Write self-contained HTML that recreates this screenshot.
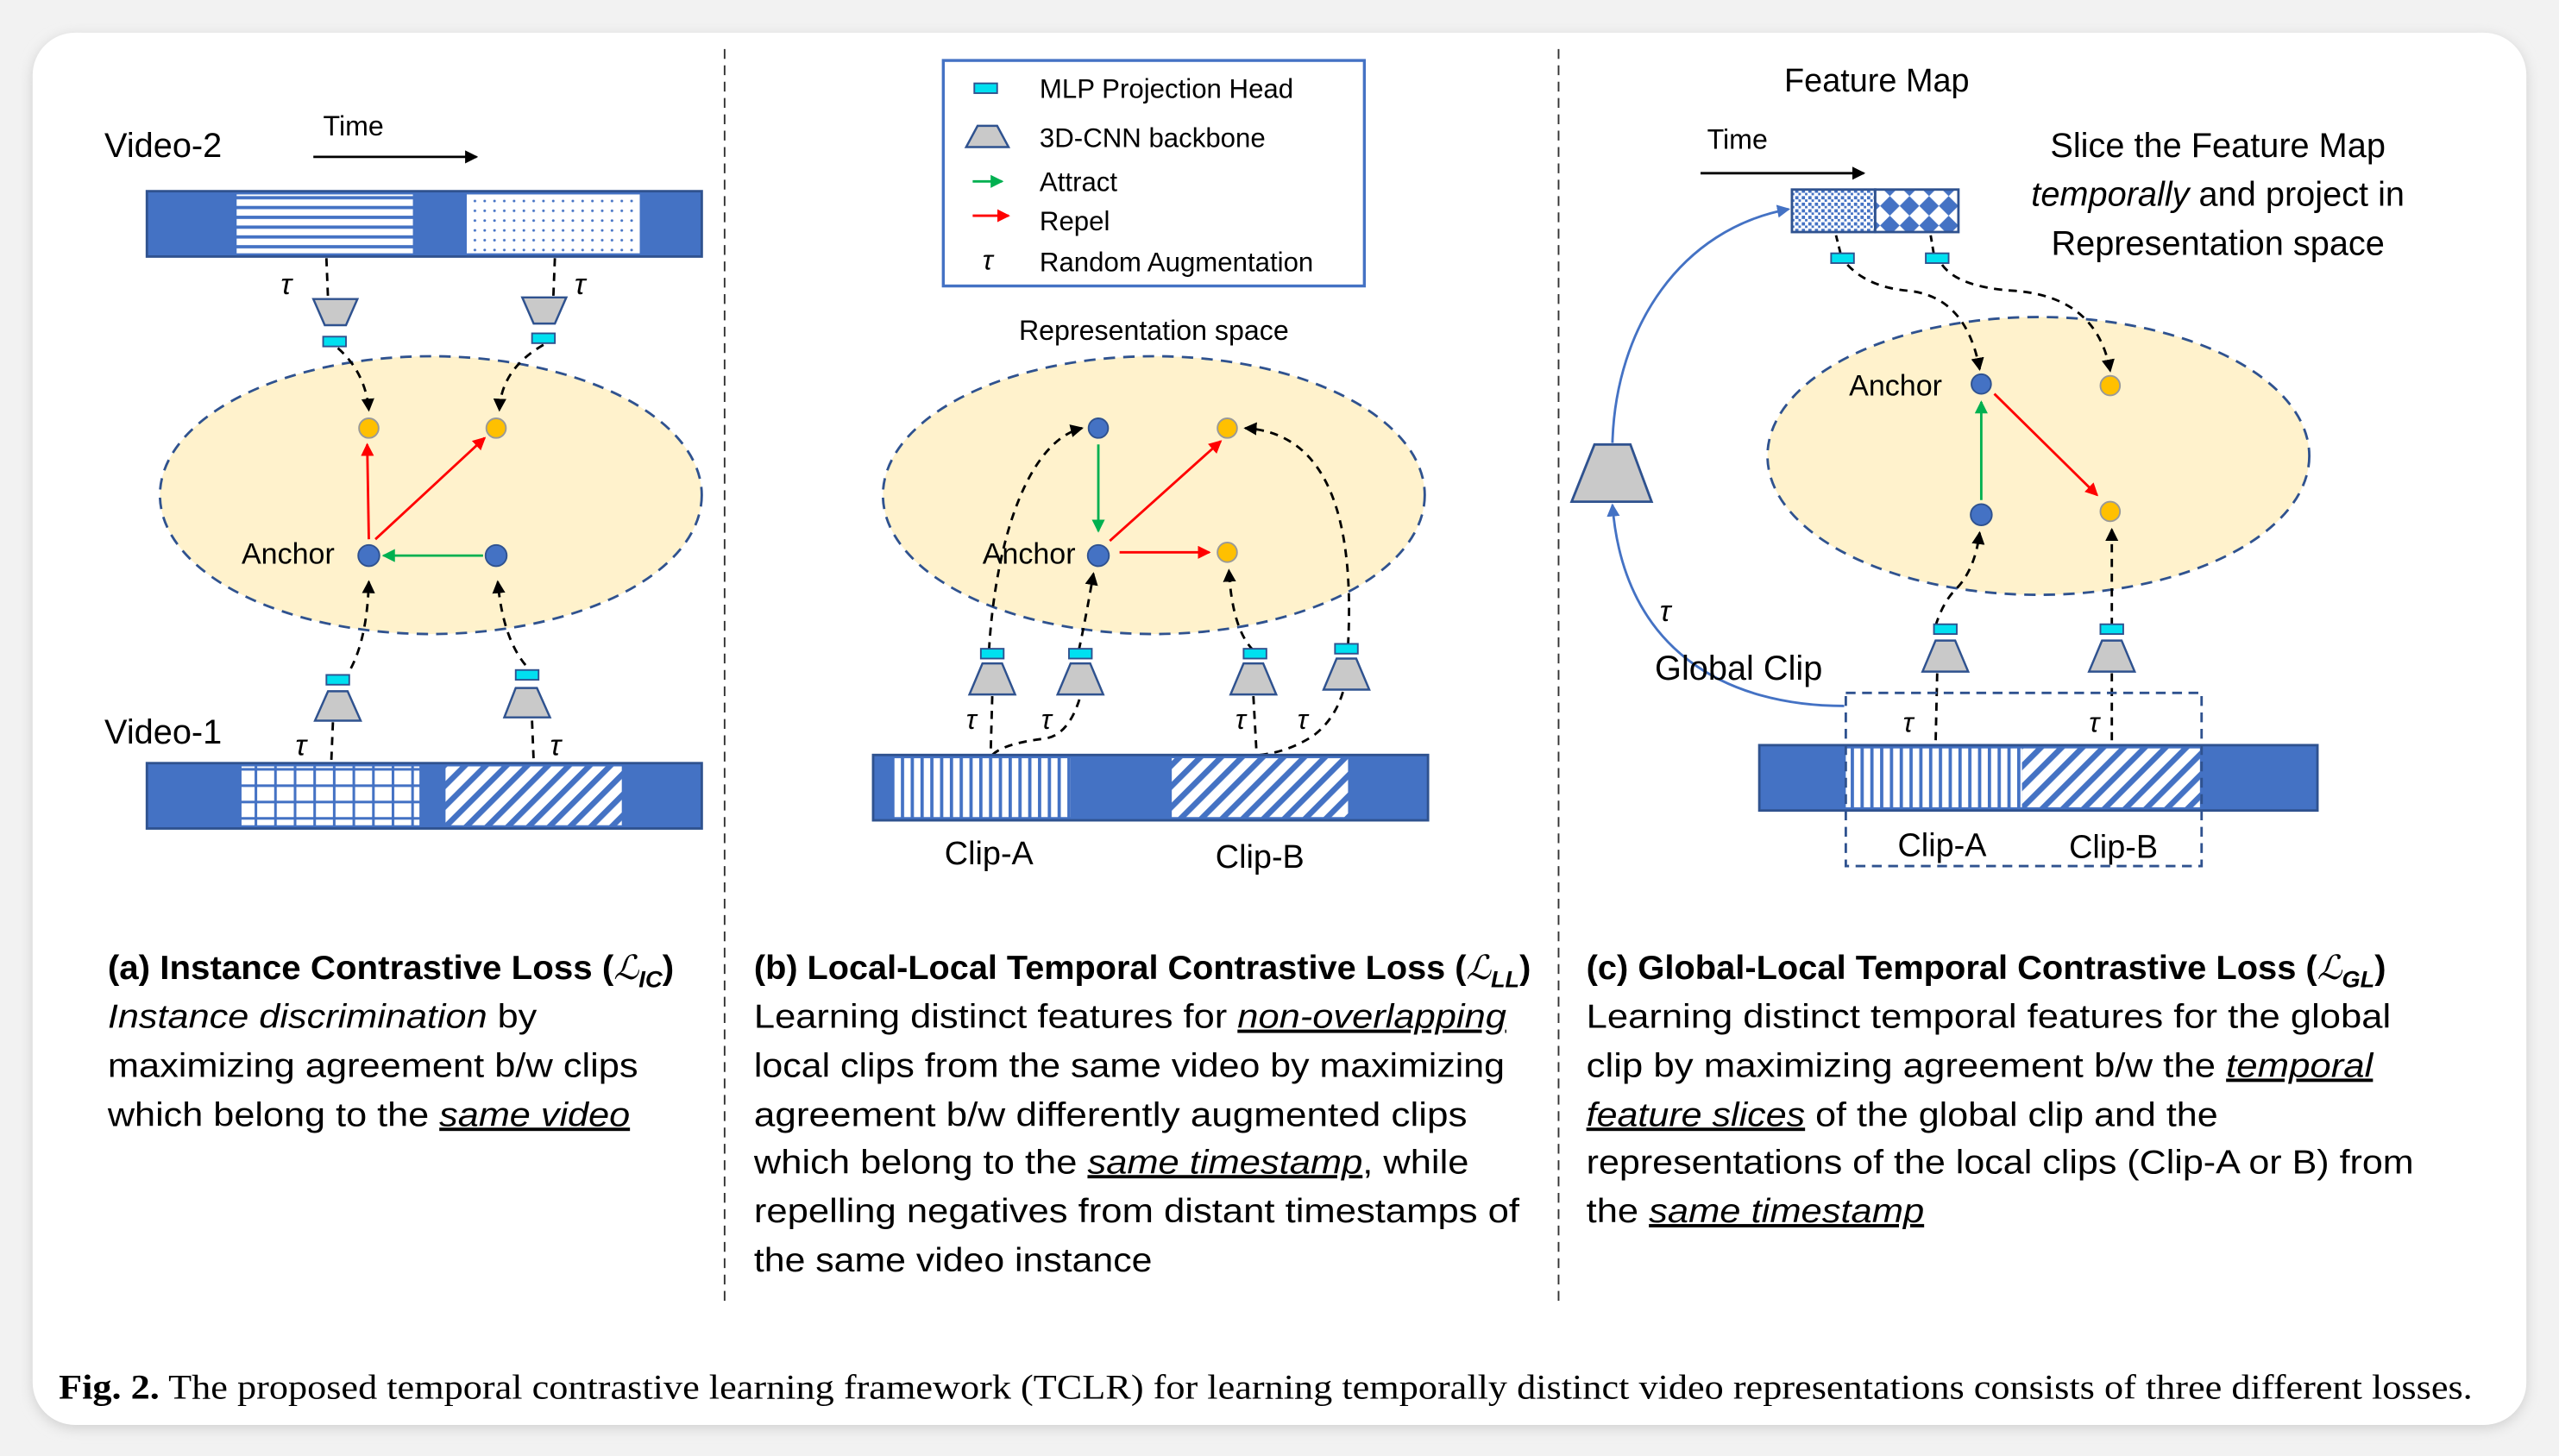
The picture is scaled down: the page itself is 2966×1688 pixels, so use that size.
<!DOCTYPE html>
<html><head><meta charset="utf-8"><style>
html,body{margin:0;padding:0;background:#ececec;}
svg{display:block;}
text{font-family:"Liberation Sans",sans-serif;fill:#000;}
.cap{font-size:20.5px;}
</style></head><body>
<svg width="2966" height="1688" viewBox="0 0 1568 891" preserveAspectRatio="none" xmlns="http://www.w3.org/2000/svg">
<defs>
<pattern id="hs" width="6" height="6" patternUnits="userSpaceOnUse"><rect width="6" height="6" fill="#fff"/><rect y="0" width="6" height="2" fill="#4472c4"/></pattern>
<pattern id="vs" width="6" height="6" patternUnits="userSpaceOnUse"><rect width="6" height="6" fill="#fff"/><rect x="0" width="2" height="6" fill="#4472c4"/></pattern>
<pattern id="dots" width="6" height="6" patternUnits="userSpaceOnUse"><rect width="6" height="6" fill="#fff"/><circle cx="3" cy="3" r="0.8" fill="#4472c4"/></pattern>
<pattern id="grid" width="12" height="10" patternUnits="userSpaceOnUse"><rect width="12" height="10" fill="#fff"/><rect width="1.6" height="10" fill="#4472c4"/><rect width="12" height="1.6" fill="#4472c4"/></pattern>
<pattern id="diag" width="9" height="9" patternUnits="userSpaceOnUse" patternTransform="rotate(45)"><rect width="9" height="9" fill="#fff"/><rect width="3.5" height="9" fill="#4472c4"/></pattern>
<pattern id="speck" width="4" height="4" patternUnits="userSpaceOnUse"><rect width="4" height="4" fill="#fff"/><rect width="2" height="2" fill="#4472c4"/><rect x="2" y="2" width="1.5" height="1.5" fill="#4472c4"/></pattern>
<pattern id="diam" width="12" height="12" patternUnits="userSpaceOnUse"><rect width="12" height="12" fill="#fff"/><path d="M6 0 L12 6 L6 12 L0 6Z" fill="#4472c4"/></pattern>
<marker id="ak" markerWidth="8" markerHeight="8" refX="7" refY="4" orient="auto" markerUnits="userSpaceOnUse"><path d="M0 0 L8 4 L0 8Z" fill="#000"/></marker>
<marker id="ar" markerWidth="8" markerHeight="8" refX="7" refY="4" orient="auto" markerUnits="userSpaceOnUse"><path d="M0 0 L8 4 L0 8Z" fill="#f00"/></marker>
<marker id="ag" markerWidth="8" markerHeight="8" refX="7" refY="4" orient="auto" markerUnits="userSpaceOnUse"><path d="M0 0 L8 4 L0 8Z" fill="#00b050"/></marker>
<marker id="ab" markerWidth="8" markerHeight="8" refX="7" refY="4" orient="auto" markerUnits="userSpaceOnUse"><path d="M0 0 L8 4 L0 8Z" fill="#4472c4"/></marker>
<filter id="sh" x="-5%" y="-5%" width="110%" height="110%"><feGaussianBlur stdDeviation="4"/></filter>
</defs>
<rect width="1568" height="891" fill="#f2f2f2"/>
<rect x="20" y="22" width="1528" height="852" rx="26" fill="#cfcfcf" filter="url(#sh)"/>
<rect x="20" y="20" width="1528" height="852" rx="26" fill="#fff"/>

<line x1="444" y1="30" x2="444" y2="800" stroke="#333" stroke-width="1" stroke-dasharray="6,4"/>
<line x1="955" y1="30" x2="955" y2="800" stroke="#333" stroke-width="1" stroke-dasharray="6,4"/>

<g id="A">
<text x="64" y="96" font-size="21">Video-2</text>
<text x="198" y="83" font-size="17">Time</text>
<line x1="192" y1="96" x2="292" y2="96" stroke="#000" stroke-width="1.5" marker-end="url(#ak)"/>
<rect x="90" y="117" width="340" height="40" fill="#4472c4" stroke="#2f528f" stroke-width="1.5"/>
<rect x="145" y="119" width="108" height="36" fill="url(#hs)"/>
<rect x="286" y="119" width="106" height="36" fill="url(#dots)"/>
<ellipse cx="264" cy="303" rx="166" ry="85" fill="#fff2cc" stroke="#2f528f" stroke-width="1.5" stroke-dasharray="7,5"/>
<text x="172" y="180" font-size="18" font-family="Liberation Serif" font-style="italic">τ</text>
<text x="352" y="180" font-size="18" font-family="Liberation Serif" font-style="italic">τ</text>
<path d="M200 158 L201 183" stroke="#000" stroke-width="1.5" stroke-dasharray="5,4" fill="none"/>
<path d="M340 158 L339 183" stroke="#000" stroke-width="1.5" stroke-dasharray="5,4" fill="none"/>
<path d="M192 183 L219 183 L212 199 L199 199Z" fill="#c9c9c9" stroke="#2f528f" stroke-width="1.3"/>
<path d="M320 182 L347 182 L340 198 L327 198Z" fill="#c9c9c9" stroke="#2f528f" stroke-width="1.3"/>
<rect x="198" y="206" width="14" height="6" fill="#00e0f0" stroke="#2f528f"/>
<rect x="326" y="204" width="14" height="6" fill="#00e0f0" stroke="#2f528f"/>
<path d="M207 213 Q224 228 226 251" stroke="#000" stroke-width="1.5" stroke-dasharray="5,4" fill="none" marker-end="url(#ak)"/>
<path d="M333 211 Q307 226 306 251" stroke="#000" stroke-width="1.5" stroke-dasharray="5,4" fill="none" marker-end="url(#ak)"/>
<line x1="226" y1="330" x2="225" y2="272" stroke="#f00" stroke-width="1.5" marker-end="url(#ar)"/>
<line x1="230" y1="330" x2="297" y2="268" stroke="#f00" stroke-width="1.5" marker-end="url(#ar)"/>
<line x1="296" y1="340" x2="235" y2="340" stroke="#00b050" stroke-width="1.5" marker-end="url(#ag)"/>
<circle cx="226" cy="262" r="6" fill="#ffc000" stroke="#999"/>
<circle cx="304" cy="262" r="6" fill="#ffc000" stroke="#999"/>
<circle cx="226" cy="340" r="6.5" fill="#4472c4" stroke="#2f528f"/>
<circle cx="304" cy="340" r="6.5" fill="#4472c4" stroke="#2f528f"/>
<text x="148" y="345" font-size="18">Anchor</text>
<path d="M215 409 Q225 390 226 356" stroke="#000" stroke-width="1.5" stroke-dasharray="5,4" fill="none" marker-end="url(#ak)"/>
<path d="M322 407 Q308 390 305 356" stroke="#000" stroke-width="1.5" stroke-dasharray="5,4" fill="none" marker-end="url(#ak)"/>
<rect x="200" y="413" width="14" height="6" fill="#00e0f0" stroke="#2f528f"/>
<rect x="316" y="410" width="14" height="6" fill="#00e0f0" stroke="#2f528f"/>
<path d="M201 423 L213 423 L221 441 L193 441Z" fill="#c9c9c9" stroke="#2f528f" stroke-width="1.3"/>
<path d="M316 421 L329 421 L337 439 L309 439Z" fill="#c9c9c9" stroke="#2f528f" stroke-width="1.3"/>
<path d="M204 442 L203 466" stroke="#000" stroke-width="1.5" stroke-dasharray="5,4"/>
<path d="M326 441 L327 466" stroke="#000" stroke-width="1.5" stroke-dasharray="5,4"/>
<text x="64" y="455" font-size="21">Video-1</text>
<text x="181" y="462" font-size="18" font-family="Liberation Serif" font-style="italic">τ</text>
<text x="337" y="462" font-size="18" font-family="Liberation Serif" font-style="italic">τ</text>
<rect x="90" y="467" width="340" height="40" fill="#4472c4" stroke="#2f528f" stroke-width="1.5"/>
<rect x="148" y="469" width="109" height="36" fill="url(#grid)"/>
<rect x="273" y="469" width="108" height="36" fill="url(#diag)"/>
</g>

<g id="B">
<rect x="578" y="37" width="258" height="138" fill="#fff" stroke="#4472c4" stroke-width="1.8"/>
<rect x="597" y="51" width="14" height="6" fill="#00e0f0" stroke="#2f528f"/>
<path d="M599 77 L611 77 L618 90 L592 90Z" fill="#c9c9c9" stroke="#2f528f" stroke-width="1.3"/>
<line x1="596" y1="111" x2="614" y2="111" stroke="#00b050" stroke-width="1.5" marker-end="url(#ag)"/>
<line x1="596" y1="132" x2="618" y2="132" stroke="#f00" stroke-width="1.5" marker-end="url(#ar)"/>
<text x="602" y="165" font-size="17" font-family="Liberation Serif" font-style="italic">τ</text>
<g font-size="16.5">
<text x="637" y="60">MLP Projection Head</text>
<text x="637" y="90">3D-CNN backbone</text>
<text x="637" y="117">Attract</text>
<text x="637" y="141">Repel</text>
<text x="637" y="166">Random Augmentation</text>
</g>
<text x="707" y="208" font-size="17" text-anchor="middle">Representation space</text>
<ellipse cx="707" cy="303" rx="166" ry="85" fill="#fff2cc" stroke="#2f528f" stroke-width="1.5" stroke-dasharray="7,5"/>
<line x1="673" y1="272" x2="673" y2="325" stroke="#00b050" stroke-width="1.5" marker-end="url(#ag)"/>
<line x1="680" y1="331" x2="748" y2="270" stroke="#f00" stroke-width="1.5" marker-end="url(#ar)"/>
<line x1="686" y1="338" x2="741" y2="338" stroke="#f00" stroke-width="1.5" marker-end="url(#ar)"/>
<text x="602" y="345" font-size="18">Anchor</text>
<circle cx="673" cy="262" r="6" fill="#4472c4" stroke="#2f528f"/>
<circle cx="752" cy="262" r="6" fill="#ffc000" stroke="#999"/>
<circle cx="673" cy="340" r="6.5" fill="#4472c4" stroke="#2f528f"/>
<circle cx="752" cy="338" r="6" fill="#ffc000" stroke="#999"/>
<path d="M606 398 C610 330 630 270 663 262" stroke="#000" stroke-width="1.5" stroke-dasharray="5,4" fill="none" marker-end="url(#ak)"/>
<path d="M661 398 Q665 380 670 351" stroke="#000" stroke-width="1.5" stroke-dasharray="5,4" fill="none" marker-end="url(#ak)"/>
<path d="M768 398 Q755 385 753 349" stroke="#000" stroke-width="1.5" stroke-dasharray="5,4" fill="none" marker-end="url(#ak)"/>
<path d="M826 395 C830 320 815 265 763 262" stroke="#000" stroke-width="1.5" stroke-dasharray="5,4" fill="none" marker-end="url(#ak)"/>
<rect x="601" y="397" width="14" height="6" fill="#00e0f0" stroke="#2f528f"/>
<rect x="655" y="397" width="14" height="6" fill="#00e0f0" stroke="#2f528f"/>
<rect x="762" y="397" width="14" height="6" fill="#00e0f0" stroke="#2f528f"/>
<rect x="818" y="394" width="14" height="6" fill="#00e0f0" stroke="#2f528f"/>
<path d="M602 406 L614 406 L622 425 L594 425Z" fill="#c9c9c9" stroke="#2f528f" stroke-width="1.3"/>
<path d="M656 406 L668 406 L676 425 L648 425Z" fill="#c9c9c9" stroke="#2f528f" stroke-width="1.3"/>
<path d="M762 406 L774 406 L782 425 L754 425Z" fill="#c9c9c9" stroke="#2f528f" stroke-width="1.3"/>
<path d="M819 403 L831 403 L839 422 L811 422Z" fill="#c9c9c9" stroke="#2f528f" stroke-width="1.3"/>
<path d="M608 426 L607 462" stroke="#000" stroke-width="1.5" stroke-dasharray="5,4" fill="none"/>
<path d="M608 462 Q615 455 640 452 Q655 450 662 426" stroke="#000" stroke-width="1.5" stroke-dasharray="5,4" fill="none"/>
<path d="M768 426 L770 462" stroke="#000" stroke-width="1.5" stroke-dasharray="5,4" fill="none"/>
<path d="M772 462 Q790 460 805 450 Q818 440 823 423" stroke="#000" stroke-width="1.5" stroke-dasharray="5,4" fill="none"/>
<g font-size="17" font-family="Liberation Serif" font-style="italic">
<text x="592" y="446">τ</text><text x="638" y="446">τ</text><text x="757" y="446">τ</text><text x="795" y="446">τ</text>
</g>
<rect x="535" y="462" width="340" height="40" fill="#4472c4" stroke="#2f528f" stroke-width="1.5"/>
<rect x="548" y="464" width="108" height="36" fill="url(#vs)"/>
<rect x="718" y="464" width="108" height="36" fill="url(#diag)"/>
<text x="606" y="529" font-size="20" text-anchor="middle">Clip-A</text>
<text x="772" y="531" font-size="20" text-anchor="middle">Clip-B</text>
</g>

<g id="C">
<text x="1150" y="56" font-size="20" text-anchor="middle">Feature Map</text>
<text x="1046" y="91" font-size="17">Time</text>
<line x1="1042" y1="106" x2="1142" y2="106" stroke="#000" stroke-width="1.5" marker-end="url(#ak)"/>
<rect x="1098" y="116" width="51" height="26" fill="url(#speck)" stroke="#2f528f" stroke-width="1.5"/>
<rect x="1149" y="116" width="51" height="26" fill="url(#diam)" stroke="#2f528f" stroke-width="1.5"/>
<g font-size="21" text-anchor="middle">
<text x="1359" y="96">Slice the Feature Map</text>
<text x="1359" y="126"><tspan font-style="italic">temporally</tspan> and project in</text>
<text x="1359" y="156">Representation space</text>
</g>
<path d="M1125 144 L1128 156" stroke="#000" stroke-width="1.5" stroke-dasharray="4,3"/>
<path d="M1183 144 L1185 156" stroke="#000" stroke-width="1.5" stroke-dasharray="4,3"/>
<rect x="1122" y="155" width="14" height="6" fill="#00e0f0" stroke="#2f528f"/>
<rect x="1180" y="155" width="14" height="6" fill="#00e0f0" stroke="#2f528f"/>
<ellipse cx="1249" cy="279" rx="166" ry="85" fill="#fff2cc" stroke="#2f528f" stroke-width="1.5" stroke-dasharray="7,5"/>
<path d="M1132 162 Q1145 176 1170 178 Q1205 182 1213 226" stroke="#000" stroke-width="1.5" stroke-dasharray="5,4" fill="none" marker-end="url(#ak)"/>
<path d="M1190 162 Q1200 176 1235 178 Q1285 182 1293 227" stroke="#000" stroke-width="1.5" stroke-dasharray="5,4" fill="none" marker-end="url(#ak)"/>
<line x1="1214" y1="306" x2="1214" y2="246" stroke="#00b050" stroke-width="1.5" marker-end="url(#ag)"/>
<line x1="1222" y1="241" x2="1285" y2="303" stroke="#f00" stroke-width="1.5" marker-end="url(#ar)"/>
<circle cx="1214" cy="235" r="6" fill="#4472c4" stroke="#2f528f"/>
<circle cx="1293" cy="236" r="6" fill="#ffc000" stroke="#999"/>
<circle cx="1214" cy="315" r="6.5" fill="#4472c4" stroke="#2f528f"/>
<circle cx="1293" cy="313" r="6" fill="#ffc000" stroke="#999"/>
<text x="1133" y="242" font-size="18">Anchor</text>
<path d="M1186 383 Q1190 370 1197 362 Q1210 350 1213 326" stroke="#000" stroke-width="1.5" stroke-dasharray="5,4" fill="none" marker-end="url(#ak)"/>
<path d="M1294 383 L1294 324" stroke="#000" stroke-width="1.5" stroke-dasharray="5,4" fill="none" marker-end="url(#ak)"/>
<rect x="1185" y="382" width="14" height="6" fill="#00e0f0" stroke="#2f528f"/>
<rect x="1287" y="382" width="14" height="6" fill="#00e0f0" stroke="#2f528f"/>
<path d="M1186 392 L1198 392 L1206 411 L1178 411Z" fill="#c9c9c9" stroke="#2f528f" stroke-width="1.3"/>
<path d="M1288 392 L1300 392 L1308 411 L1280 411Z" fill="#c9c9c9" stroke="#2f528f" stroke-width="1.3"/>
<path d="M1187 412 L1186 456" stroke="#000" stroke-width="1.5" stroke-dasharray="5,4"/>
<path d="M1294 412 L1294 456" stroke="#000" stroke-width="1.5" stroke-dasharray="5,4"/>
<path d="M977 272 L999 272 L1012 307 L963 307Z" fill="#c9c9c9" stroke="#2f528f" stroke-width="1.5"/>
<path d="M988 271 C990 200 1030 140 1096 128" stroke="#4472c4" stroke-width="1.5" fill="none" marker-end="url(#ab)"/>
<path d="M1130 432 C1060 432 995 400 988 309" stroke="#4472c4" stroke-width="1.5" fill="none" marker-end="url(#ab)"/>
<text x="1017" y="380" font-size="18" font-family="Liberation Serif" font-style="italic">τ</text>
<text x="1014" y="416" font-size="21">Global Clip</text>
<text x="1166" y="448" font-size="17" font-family="Liberation Serif" font-style="italic">τ</text>
<text x="1280" y="448" font-size="17" font-family="Liberation Serif" font-style="italic">τ</text>
<rect x="1078" y="456" width="342" height="40" fill="#4472c4" stroke="#2f528f" stroke-width="1.5"/>
<rect x="1131" y="458" width="108" height="36" fill="url(#vs)"/>
<rect x="1239" y="458" width="109" height="36" fill="url(#diag)"/>
<rect x="1131" y="424" width="218" height="106" fill="none" stroke="#2f528f" stroke-width="1.5" stroke-dasharray="6,4"/>
<text x="1190" y="524" font-size="20" text-anchor="middle">Clip-A</text>
<text x="1295" y="525" font-size="20" text-anchor="middle">Clip-B</text>
</g>

<g class="cap" font-size="20.5">
<text x="66" y="599" textLength="347" lengthAdjust="spacingAndGlyphs"><tspan font-weight="bold">(a) Instance Contrastive Loss (</tspan><tspan font-style="italic" font-family="DejaVu Serif">ℒ</tspan><tspan font-style="italic" font-weight="bold" font-size="14" dy="5">IC</tspan><tspan font-weight="bold" dy="-5">)</tspan></text>
<text x="66" y="629" textLength="263" lengthAdjust="spacingAndGlyphs"><tspan font-style="italic">Instance discrimination</tspan> by</text>
<text x="66" y="659" textLength="325" lengthAdjust="spacingAndGlyphs">maximizing agreement b/w clips</text>
<text x="66" y="689" textLength="320" lengthAdjust="spacingAndGlyphs">which belong to the <tspan font-style="italic" text-decoration="underline">same video</tspan></text>

<text x="462" y="599" textLength="476" lengthAdjust="spacingAndGlyphs"><tspan font-weight="bold">(b) Local-Local Temporal Contrastive Loss (</tspan><tspan font-style="italic" font-family="DejaVu Serif">ℒ</tspan><tspan font-style="italic" font-weight="bold" font-size="14" dy="5">LL</tspan><tspan font-weight="bold" dy="-5">)</tspan></text>
<text x="462" y="629" textLength="461" lengthAdjust="spacingAndGlyphs">Learning distinct features for <tspan font-style="italic" text-decoration="underline">non-overlapping</tspan></text>
<text x="462" y="659" textLength="460" lengthAdjust="spacingAndGlyphs">local clips from the same video by maximizing</text>
<text x="462" y="689" textLength="437" lengthAdjust="spacingAndGlyphs">agreement b/w differently augmented clips</text>
<text x="462" y="718" textLength="438" lengthAdjust="spacingAndGlyphs">which belong to the <tspan font-style="italic" text-decoration="underline">same timestamp</tspan>, while</text>
<text x="462" y="748" textLength="469" lengthAdjust="spacingAndGlyphs">repelling negatives from distant timestamps of</text>
<text x="462" y="778" textLength="244" lengthAdjust="spacingAndGlyphs">the same video instance</text>

<text x="972" y="599" textLength="490" lengthAdjust="spacingAndGlyphs"><tspan font-weight="bold">(c) Global-Local Temporal Contrastive Loss (</tspan><tspan font-style="italic" font-family="DejaVu Serif">ℒ</tspan><tspan font-style="italic" font-weight="bold" font-size="14" dy="5">GL</tspan><tspan font-weight="bold" dy="-5">)</tspan></text>
<text x="972" y="629" textLength="493" lengthAdjust="spacingAndGlyphs">Learning distinct temporal features for the global</text>
<text x="972" y="659" textLength="482" lengthAdjust="spacingAndGlyphs">clip by maximizing agreement b/w the <tspan font-style="italic" text-decoration="underline">temporal</tspan></text>
<text x="972" y="689" textLength="387" lengthAdjust="spacingAndGlyphs"><tspan font-style="italic" text-decoration="underline">feature slices</tspan> of the global clip and the</text>
<text x="972" y="718" textLength="507" lengthAdjust="spacingAndGlyphs">representations of the local clips (Clip-A or B) from</text>
<text x="972" y="748" textLength="207" lengthAdjust="spacingAndGlyphs">the <tspan font-style="italic" text-decoration="underline">same timestamp</tspan></text>
</g>
<text x="36" y="856" font-size="21" textLength="1479" lengthAdjust="spacingAndGlyphs" style="font-family:'Liberation Serif',serif"><tspan font-weight="bold">Fig. 2.</tspan>  The proposed temporal contrastive learning framework (TCLR) for learning temporally distinct video representations consists of three different losses.</text>
</svg>
</body></html>
